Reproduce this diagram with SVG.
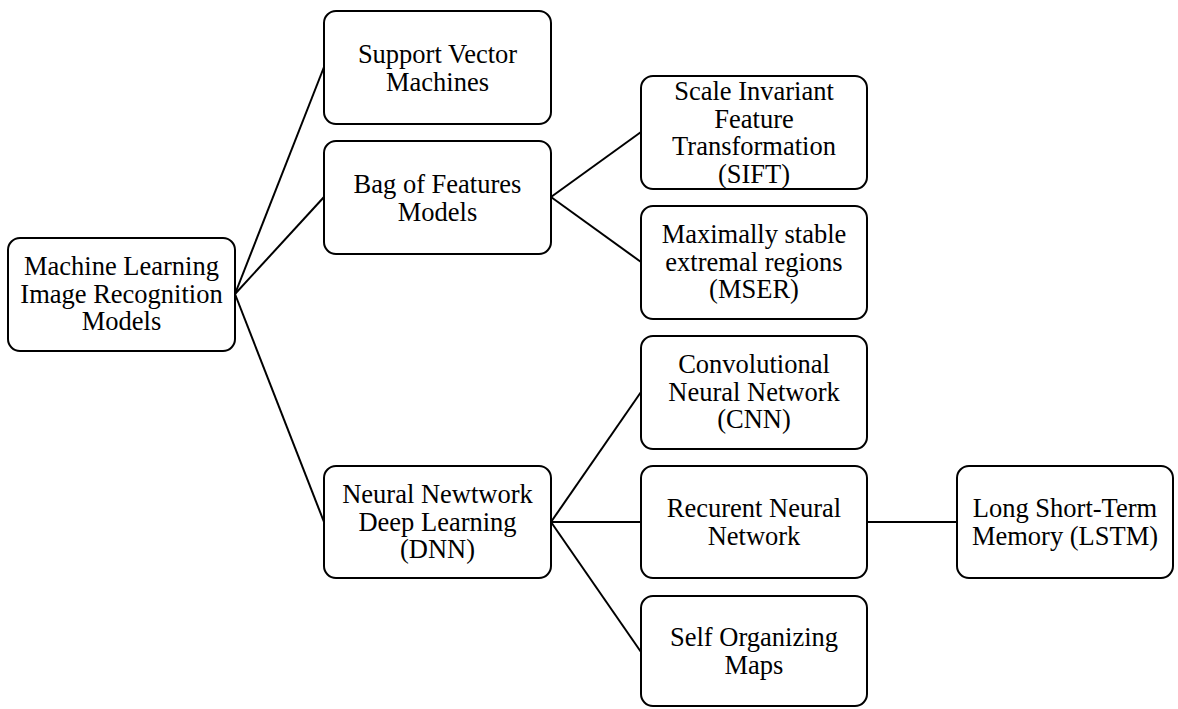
<svg xmlns="http://www.w3.org/2000/svg" width="1178" height="709" viewBox="0 0 1178 709">
<defs>
<style>
.box{fill:#fff;stroke:#000;stroke-width:2}
.c{stroke:#000;stroke-width:2;fill:none}
</style>
</defs>
<rect width="1178" height="709" fill="#fff"/>
<g id="connectors">
<line class="c" x1="235" y1="294" x2="324" y2="67"/>
<line class="c" x1="235" y1="294" x2="324" y2="197"/>
<line class="c" x1="235" y1="294" x2="324" y2="522"/>
<line class="c" x1="551" y1="197" x2="641" y2="132"/>
<line class="c" x1="551" y1="197" x2="641" y2="262"/>
<line class="c" x1="551" y1="522" x2="641" y2="392"/>
<line class="c" x1="551" y1="522" x2="641" y2="522"/>
<line class="c" x1="551" y1="522" x2="641" y2="652"/>
<line class="c" x1="867" y1="522" x2="957" y2="522"/>
</g>
<g id="nodes" font-family="Liberation Serif" font-size="26.5" text-anchor="middle" fill="#000">
<g id="root"><rect class="box" x="8" y="238" width="227" height="113" rx="12"/>
<text x="121.5" y="275">Machine Learning</text><text x="121.5" y="302.5">Image Recognition</text><text x="121.5" y="330">Models</text></g>
<g id="svm"><rect class="box" x="324" y="11" width="227" height="113" rx="12"/>
<text x="437.5" y="63">Support Vector</text><text x="437.5" y="90.5">Machines</text></g>
<g id="bof"><rect class="box" x="324" y="141" width="227" height="113" rx="12"/>
<text x="437.5" y="193">Bag of Features</text><text x="437.5" y="220.5">Models</text></g>
<g id="dnn"><rect class="box" x="324" y="466" width="227" height="112" rx="12"/>
<text x="437.5" y="503">Neural Newtwork</text><text x="437.5" y="530.5">Deep Learning</text><text x="437.5" y="558">(DNN)</text></g>
<g id="sift"><rect class="box" x="641" y="76" width="226" height="113" rx="12"/>
<text x="754" y="100">Scale Invariant</text><text x="754" y="127.5">Feature</text><text x="754" y="155">Transformation</text><text x="754" y="182.5">(SIFT)</text></g>
<g id="mser"><rect class="box" x="641" y="206" width="226" height="113" rx="12"/>
<text x="754" y="243">Maximally stable</text><text x="754" y="270.5">extremal regions</text><text x="754" y="298">(MSER)</text></g>
<g id="cnn"><rect class="box" x="641" y="336" width="226" height="113" rx="12"/>
<text x="754" y="373">Convolutional</text><text x="754" y="400.5">Neural Network</text><text x="754" y="428">(CNN)</text></g>
<g id="rnn"><rect class="box" x="641" y="466" width="226" height="112" rx="12"/>
<text x="754" y="517">Recurent Neural</text><text x="754" y="544.5">Network</text></g>
<g id="som"><rect class="box" x="641" y="596" width="226" height="110" rx="12"/>
<text x="754" y="646">Self Organizing</text><text x="754" y="673.5">Maps</text></g>
<g id="lstm"><rect class="box" x="957" y="466" width="216" height="112" rx="12"/>
<text x="1065" y="517">Long Short-Term</text><text x="1065" y="544.5">Memory (LSTM)</text></g>
</g>
</svg>
